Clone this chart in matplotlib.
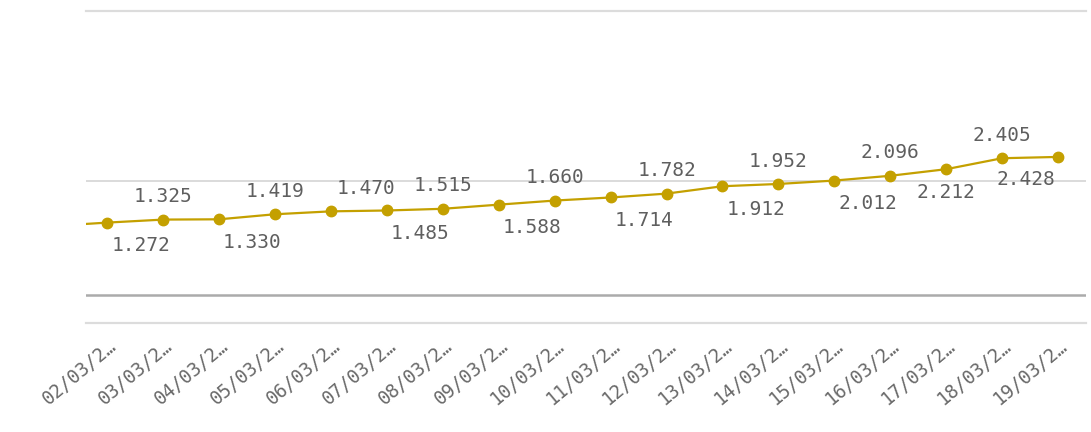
import matplotlib
matplotlib.use("Agg")
import matplotlib.pyplot as plt
import matplotlib.transforms as mtransforms

# ---- data ----
dates = ["02/03/2…", "03/03/2…", "04/03/2…", "05/03/2…", "06/03/2…", "07/03/2…",
         "08/03/2…", "09/03/2…", "10/03/2…", "11/03/2…", "12/03/2…", "13/03/2…",
         "14/03/2…", "15/03/2…", "16/03/2…", "17/03/2…", "18/03/2…", "19/03/2…"]
values = [1.272, 1.325, 1.330, 1.419, 1.470, 1.485, 1.515, 1.588, 1.660,
          1.714, 1.782, 1.912, 1.952, 2.012, 2.096, 2.212, 2.405, 2.428]
# value of the preceding day (scrolled out of view, only its segment shows)
prev_value = 1.21

# ---- label placement (layout only): (vertical side, x offset in points) ----
label_place = [("below", 24), ("above", 0), ("below", 24), ("above", 0),
               ("above", 25), ("below", 24), ("above", 0), ("below", 24),
               ("above", 0), ("below", 24), ("above", 0), ("below", 24),
               ("above", 0), ("below", 24), ("above", 0), ("below", 0),
               ("above", 0), ("below", -23)]

LINE = "#c4a000"
TEXT = "#5f5f5f"
MONO = ["DejaVu Sans Mono"]

fig = plt.figure(figsize=(10.91, 4.32), dpi=100)
ax = fig.add_axes([86 / 1091, 1 - 322.7 / 432, 1000 / 1091, (322.7 - 10.8) / 432])

xs = list(range(len(values)))
ax.plot([-1] + xs, [prev_value] + values, color=LINE, lw=1.6, zorder=3)
ax.plot(xs, values, "o", color=LINE, ms=7.5, zorder=4)

for x, v, (side, dx) in zip(xs, values, label_place):
    dy = 16.5 if side == "above" else -16.5
    ax.annotate(f"{v:.3f}", (x, v), xytext=(dx, dy), textcoords="offset points",
                ha="center", va="center", fontsize=14, color=TEXT,
                family=MONO, zorder=5)

ax.set_xlim(-0.38, 17.5)
ax.set_ylim(-0.49, 5.0)

ax.axhline(0, color="#ababab", lw=1.8, zorder=1)
ax.axhline(2, color="#d4d4d4", lw=1.2, zorder=1)

for s in ["left", "right"]:
    ax.spines[s].set_visible(False)
for s in ["top", "bottom"]:
    ax.spines[s].set_color("#dcdcdc")
    ax.spines[s].set_linewidth(1.6)

ax.set_yticks([])
ax.set_xticks(xs)
ax.set_xticklabels(dates, rotation=40, ha="right", va="center",
                   rotation_mode="anchor", fontsize=13.5, color="#6a6a6a",
                   family=MONO)
ax.tick_params(axis="x", length=0, pad=15)
shift = mtransforms.ScaledTranslation(7 / 100, 0, fig.dpi_scale_trans)
for lbl in ax.get_xticklabels():
    lbl.set_transform(lbl.get_transform() + shift)

fig.savefig("out.png", dpi=100, facecolor="white")
